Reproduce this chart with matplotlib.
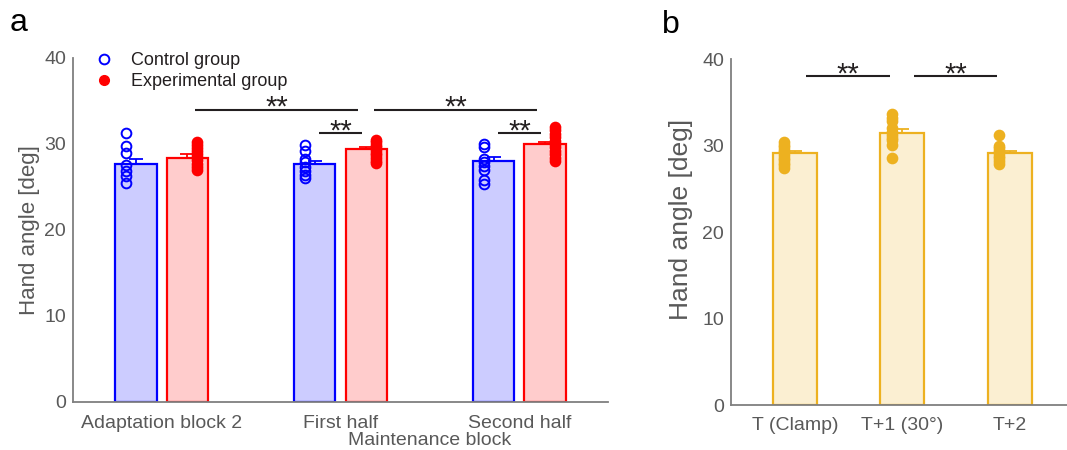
import matplotlib
matplotlib.use('Agg')
import matplotlib.pyplot as plt

plt.rcParams['font.family'] = ['Liberation Sans', 'DejaVu Sans']

# ---- panel a: adaptation / maintenance blocks
cond_labels = ['Adaptation block 2', 'First half', 'Second half']
control_mean = [27.7, 27.7, 28.0]
control_sem = [0.55, 0.35, 0.5]
exp_mean = [28.4, 29.4, 30.0]
exp_sem = [0.4, 0.3, 0.25]
control_points = [
    [31.3, 29.8, 28.9, 27.6, 26.9, 26.3, 25.5],
    [29.9, 29.2, 28.3, 27.9, 27.3, 26.9, 26.4, 26.0],
    [30.0, 29.7, 28.3, 27.9, 27.5, 27.0, 25.8, 25.4],
]
exp_points = [
    [30.2, 29.9, 29.5, 29.2, 28.8, 28.5, 28.1, 27.7, 27.3, 27.0],
    [30.5, 30.2, 29.9, 29.6, 29.3, 29.0, 28.7, 28.4, 28.0, 27.8],
    [32.0, 31.6, 31.2, 30.8, 30.4, 30.0, 29.6, 29.2, 28.8, 28.4, 28.0],
]
# (bar, bar, height) -- bars numbered control0, exp0, control1, exp1, ...
sig_a = [(1, 3, 34.0), (3, 5, 34.0), (2, 3, 31.3), (4, 5, 31.3)]

# ---- panel b: trials around the clamp
trial_labels = ['T (Clamp)', 'T+1 (30°)', 'T+2']
trial_mean = [29.1, 31.4, 29.1]
trial_sem = [0.3, 0.5, 0.3]
trial_points = [
    [30.4, 30.1, 29.8, 29.5, 29.2, 28.9, 28.6, 28.3, 28.0, 27.7, 27.4],
    [33.6, 33.2, 32.8, 32.0, 31.6, 31.2, 30.9, 30.6, 30.1, 28.6],
    [31.2, 30.0, 29.7, 29.4, 29.1, 28.8, 28.5, 28.2, 27.9],
]
sig_b = [(0, 1, 38.0), (1, 2, 38.0)]

BLUE, BLUE_F = '#0000FF', '#CCCCFF'
RED, RED_F = '#FF0000', '#FFCCCC'
ORANGE, ORANGE_F = '#EDB120', '#FBEFD2'
GREY = '#595959'
INK = '#231f20'


# ==================================================================
def style_axes(ax, label_size):
    """ Solo ejes izquierdo e inferior, en gris y sin marcas """
    for s in ['top', 'right']:
        ax.spines[s].set_visible(False)
    for s in ['left', 'bottom']:
        ax.spines[s].set_color('#7f7f7f')
        ax.spines[s].set_linewidth(1.3)
    ax.tick_params(length=0, labelsize=14, colors=GREY)
    ax.tick_params(axis='y', pad=5)
    ax.tick_params(axis='x', pad=9)
    ax.set_ylim(0, 40)
    ax.set_yticks([0, 10, 20, 30, 40])
    ax.set_ylabel('Hand angle [deg]', fontsize=label_size, color=GREY)


# ==================================================================
def draw_bar(ax, x, mean, sem, pts, edge, face, dx, open_marker=False):
    ax.errorbar(x, mean, yerr=sem, color=edge, capsize=5, elinewidth=1.3,
                capthick=1.3, zorder=1)
    ax.bar(x, mean, width=ax.bar_w, color=face, edgecolor=edge,
           linewidth=1.6, zorder=2)
    ax.plot([x + dx] * len(pts), pts, 'o', ms=7, zorder=3,
            mfc='none' if open_marker else edge, mec=edge, mew=1.4)


# ==================================================================
def draw_sig(ax, x1, x2, y):
    ax.plot([x1, x2], [y, y], color=INK, lw=1.5, zorder=4,
            solid_capstyle='butt')
    ax.annotate('**', xy=((x1 + x2) / 2, y), xytext=(0, -4.5),
                textcoords='offset points', ha='center', va='baseline',
                fontsize=21, color=INK)


# ==================================================================
fig = plt.figure(figsize=(10.67, 4.5), dpi=100)
ax_a = fig.add_axes([73 / 1067, 48 / 450, 535 / 1067, 344 / 450])
ax_b = fig.add_axes([731 / 1067, 45 / 450, 340 / 1067, 346 / 450])

# panel a
ax_a.bar_w = 0.23
off = 0.143
bar_x = []
for i in range(len(cond_labels)):
    draw_bar(ax_a, i - off, control_mean[i], control_sem[i], control_points[i],
             BLUE, BLUE_F, -0.056, open_marker=True)
    draw_bar(ax_a, i + off, exp_mean[i], exp_sem[i], exp_points[i],
             RED, RED_F, 0.056)
    bar_x += [i - off, i + off]
for b1, b2, y in sig_a:
    inset = 0.045 if b2 - b1 > 1 else 0.025
    draw_sig(ax_a, bar_x[b1] + inset, bar_x[b2] - inset, y)

ax_a.plot([], [], 'o', ms=7, mfc='none', mec=BLUE, mew=1.4, label='Control group')
ax_a.plot([], [], 'o', ms=7, color=RED, label='Experimental group')
ax_a.legend(loc='upper left', bbox_to_anchor=(0.008, 1.065), frameon=False,
            fontsize=13, handlelength=1.2, handletextpad=0.9, labelspacing=0.25,
            labelcolor=INK)

style_axes(ax_a, 16)
ax_a.set_xlim(-0.495, 2.495)
ax_a.set_xticks(range(len(cond_labels)))
ax_a.set_xticklabels(cond_labels)
ax_a.text(1.5, -0.125, 'Maintenance block', transform=ax_a.get_xaxis_transform(),
          ha='center', va='baseline', fontsize=14, color=GREY)
ax_a.yaxis.set_label_coords(-0.062, 0.5)

# panel b
ax_b.bar_w = 0.41
for i in range(len(trial_labels)):
    draw_bar(ax_b, i, trial_mean[i], trial_sem[i], trial_points[i],
             ORANGE, ORANGE_F, -0.1)
for b1, b2, y in sig_b:
    draw_sig(ax_b, b1 + 0.105, b2 - 0.115, y)

style_axes(ax_b, 19)
ax_b.set_xlim(-0.595, 2.57)
ax_b.set_xticks(range(len(trial_labels)))
ax_b.set_xticklabels(trial_labels)
ax_b.yaxis.set_label_coords(-0.112, 0.535)

fig.text(10 / 1067, 1 - 31 / 450, 'a', fontsize=23, va='baseline')
fig.text(662 / 1067, 1 - 33 / 450, 'b', fontsize=23, va='baseline')

fig.savefig('out.png', dpi=100)
